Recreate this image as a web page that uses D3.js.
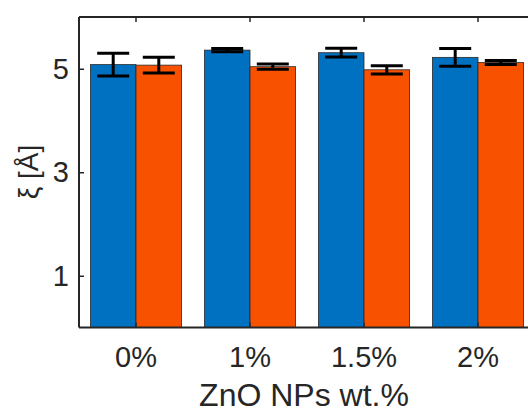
<!DOCTYPE html>
<html><head><meta charset="utf-8">
<script src="https://cdn.jsdelivr.net/npm/d3@7"></script>
<style>body{margin:0;background:#fff}svg{display:block}</style>
</head><body>
<script>
const categories = ["0%", "1%", "1.5%", "2%"];
const seriesNames = ["A", "B"];
const blueValues = [5.08, 5.36, 5.31, 5.22];
const blueErrors = [0.22, 0.03, 0.085, 0.17];
const orangeValues = [5.07, 5.04, 4.98, 5.12];
const orangeErrors = [0.15, 0.05, 0.08, 0.04];
const yTicks = [1, 3, 5];
const colors = ["#0070C0", "#F85200"];

(function () {
const W = 528, H = 412;
const svg = d3.select("body").append("svg").attr("width", W).attr("height", H);
const mLeft = 79, mRight = 535, mTop = 17, mBottom = 327.5;

const x = d3.scaleBand().domain(categories).range([mLeft, mRight]).paddingInner(0.2).paddingOuter(0.1);
const xs = d3.scaleBand().domain(seriesNames).range([0, x.bandwidth()]);
const y = d3.scaleLinear().domain([0, 6]).range([mBottom, mTop]);

const data = [];
categories.forEach((c, i) => {
  data.push({c, s: "A", v: blueValues[i], e: blueErrors[i], col: colors[0]});
  data.push({c, s: "B", v: orangeValues[i], e: orangeErrors[i], col: colors[1]});
});

const g = svg.append("g");
g.selectAll("rect.bar").data(data).join("rect")
  .attr("x", d => x(d.c) + xs(d.s))
  .attr("y", d => y(d.v))
  .attr("width", xs.bandwidth())
  .attr("height", d => y(0) - y(d.v))
  .attr("fill", d => d.col)
  .attr("stroke", "#2a2a2a").attr("stroke-width", 0.8);

const capW = 32;
const cx = d => x(d.c) + xs(d.s) + xs.bandwidth() / 2;
const eb = g.selectAll("g.eb").data(data).join("g").attr("stroke", "#000").attr("stroke-width", 3);
eb.append("line").attr("x1", cx).attr("x2", cx)
  .attr("y1", d => y(d.v + d.e)).attr("y2", d => y(d.v - d.e));
eb.append("line").attr("x1", d => cx(d) - capW / 2).attr("x2", d => cx(d) + capW / 2)
  .attr("y1", d => y(d.v + d.e)).attr("y2", d => y(d.v + d.e));
eb.append("line").attr("x1", d => cx(d) - capW / 2).attr("x2", d => cx(d) + capW / 2)
  .attr("y1", d => y(d.v - d.e)).attr("y2", d => y(d.v - d.e));

const axisColor = "#262626";
const font = "'Liberation Sans', Arial, sans-serif";

const yAxis = svg.append("g").attr("transform", `translate(${mLeft},0)`)
  .call(d3.axisLeft(y).tickValues(yTicks).tickSize(-5).tickPadding(10).tickFormat(d3.format("d")));
const xAxis = svg.append("g").attr("transform", `translate(0,${mBottom})`)
  .call(d3.axisBottom(x).tickSize(-5).tickPadding(19));
const tAxis = svg.append("g").attr("transform", `translate(0,${mTop})`)
  .call(d3.axisTop(x).tickSize(-5).tickFormat(""));
const rAxis = svg.append("g").attr("transform", `translate(${mRight},0)`)
  .call(d3.axisRight(y).tickValues(yTicks).tickSize(-5).tickFormat(""));
[yAxis, xAxis, tAxis, rAxis].forEach(a => {
  a.selectAll("path.domain").attr("stroke", axisColor).attr("stroke-width", 2);
  a.selectAll(".tick line").attr("stroke", axisColor).attr("stroke-width", 1.5);
  a.selectAll(".tick text").attr("fill", axisColor).style("font-family", font).style("font-size", "29px");
});
tAxis.select("path.domain").attr("d", `M${mLeft},0H${mRight}`);
xAxis.select("path.domain").attr("d", `M${mLeft},0H${mRight}`);
yAxis.select("path.domain").attr("d", `M0,${mTop}V${mBottom}`);
rAxis.select("path.domain").attr("d", `M0,${mTop}V${mBottom}`);

svg.append("text")
  .attr("transform", `translate(38,172) rotate(-90)`)
  .attr("text-anchor", "middle")
  .attr("fill", axisColor)
  .style("font-family", font).style("font-size", "28px")
  .text("ξ [Å]");
svg.append("text")
  .attr("x", 304).attr("y", 406)
  .attr("text-anchor", "middle")
  .attr("fill", axisColor)
  .style("font-family", font).style("font-size", "32px")
  .text("ZnO NPs wt.%");
})();
</script>
</body></html>
